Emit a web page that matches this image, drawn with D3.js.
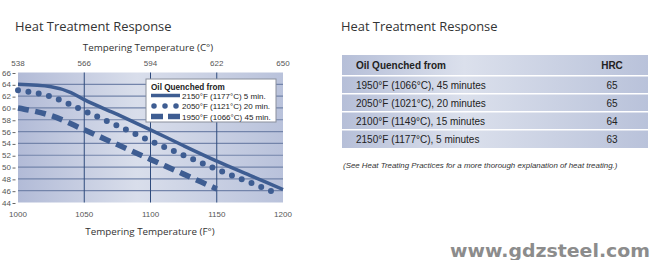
<!DOCTYPE html>
<html>
<head>
<meta charset="utf-8">
<script src="https://cdn.jsdelivr.net/npm/d3@7"></script>
<style>
  body { margin: 0; background: #fff; }
  svg { display: block; }
</style>
</head>
<body>
<div id="chart"></div>
<script>
// curve data: tempering temp (F) -> hardness (HRC)
var temps2150 = [1000, 1025, 1040, 1050, 1075, 1100, 1125, 1150, 1175, 1200];
var hrc2150   = [64, 63.6, 62.6, 61.4, 58.9, 56.3, 53.6, 51, 48.6, 46.2];
var temps2050 = [1000, 1025, 1050, 1075, 1100, 1125, 1150, 1175, 1196];
var hrc2050   = [63, 61.9, 59.5, 57, 54.4, 52, 49.6, 47.4, 45.5];
var temps1950 = [1000, 1025, 1050, 1075, 1100, 1125, 1150];
var hrc1950   = [60, 58.7, 56.3, 53.8, 51.3, 48.8, 46.3];

var seriesNames = ["2150°F (1177°C) 5 min.", "2050°F (1121°C) 20 min.", "1950°F (1066°C) 45 min."];
var fTicks = [1000, 1050, 1100, 1150, 1200];
var cTicks = [538, 566, 594, 622, 650];
var hrcTicks = [44, 46, 48, 50, 52, 54, 56, 58, 60, 62, 64, 66];

// table on the right
var tableHead = ["Oil Quenched from", "HRC"];
var tableRows = ["1950°F (1066°C), 45 minutes", "2050°F (1021°C), 20 minutes",
                 "2100°F (1149°C), 15 minutes", "2150°F (1177°C), 5 minutes"];
var tableHrc = [65, 65, 64, 63];

var W = 652, H = 260;
var lineColor = "#3e5d92";
var font = "Liberation Sans, Arial, sans-serif";

var svg = d3.select("#chart").append("svg")
  .attr("width", W).attr("height", H)
  .style("font-family", font);

var defs = svg.append("defs");
var g1 = defs.append("linearGradient").attr("id", "plotbg");
g1.append("stop").attr("offset", "0%").attr("stop-color", "#b2bbd7");
g1.append("stop").attr("offset", "45%").attr("stop-color", "#d9deeb");
g1.append("stop").attr("offset", "100%").attr("stop-color", "#b9c2db");
var g2 = defs.append("linearGradient").attr("id", "tblbg");
g2.append("stop").attr("offset", "0%").attr("stop-color", "#b6bfd8");
g2.append("stop").attr("offset", "40%").attr("stop-color", "#dbe0ec");
g2.append("stop").attr("offset", "100%").attr("stop-color", "#b9c2da");

// ---- chart ----
var x = d3.scaleLinear().domain([1000, 1200]).range([18, 283]);
var xc = d3.scaleLinear().domain([538, 650]).range([18, 283]);
var y = d3.scaleLinear().domain([44, 66]).range([202.5, 72.5]);

svg.append("text").attr("x", 15).attr("y", 31)
  .attr("font-family", "Open Sans, sans-serif").attr("font-size", 12.9).attr("fill", "#333")
  .text("Heat Treatment Response");

svg.append("rect")
  .attr("x", x(1000)).attr("y", y(66))
  .attr("width", x(1200) - x(1000)).attr("height", y(44) - y(66))
  .attr("fill", "url(#plotbg)");

svg.append("g").selectAll("line")
  .data(hrcTicks.filter(d => d > 44 && d < 66))
  .join("line")
  .attr("x1", x(1000)).attr("x2", x(1200))
  .attr("y1", d => y(d)).attr("y2", d => y(d))
  .attr("stroke", "#7384aa").attr("stroke-width", 1.2);

svg.append("g").selectAll("line")
  .data(fTicks.slice(1, -1))
  .join("line")
  .attr("x1", d => x(d)).attr("x2", d => x(d))
  .attr("y1", y(66)).attr("y2", y(44))
  .attr("stroke", "#2f4b7c").attr("stroke-width", 1);

// left axis labels with small dash
var left = svg.append("g").attr("font-size", 8).attr("fill", "#555");
left.selectAll("text").data(hrcTicks).join("text")
  .attr("x", 11).attr("y", d => y(d) + 3)
  .attr("text-anchor", "end").text(d => d);
left.selectAll("line").data(hrcTicks).join("line")
  .attr("x1", 12.5).attr("x2", 15.5)
  .attr("y1", d => y(d) + 1).attr("y2", d => y(d) + 1)
  .attr("stroke", "#666").attr("stroke-width", 1);

svg.append("g").attr("font-size", 8).attr("fill", "#555")
  .selectAll("text").data(cTicks).join("text")
  .attr("x", d => xc(d)).attr("y", 66).attr("text-anchor", "middle").text(d => d);

svg.append("g").attr("font-size", 8).attr("fill", "#555")
  .selectAll("text").data(fTicks).join("text")
  .attr("x", d => x(d)).attr("y", 217).attr("text-anchor", "middle").text(d => d);

svg.append("text").attr("x", 148).attr("y", 51).attr("text-anchor", "middle")
  .attr("font-family", "Open Sans, sans-serif").attr("font-size", 9.8).attr("fill", "#333")
  .text("Tempering Temperature (C°)");
svg.append("text").attr("x", 150).attr("y", 235).attr("text-anchor", "middle")
  .attr("font-family", "Open Sans, sans-serif").attr("font-size", 9.8).attr("fill", "#333")
  .text("Tempering Temperature (F°)");

var line = d3.line().x(d => x(d[0])).y(d => y(d[1])).curve(d3.curveMonotoneX);

var styles = [
  { w: 3.5, dash: null, cap: "butt" },
  { w: 6, dash: "0,10.5", cap: "round" },
  { w: 5.5, dash: "11,6.5", cap: "butt" }
];
var series = [
  d3.zip(temps2150, hrc2150),
  d3.zip(temps2050, hrc2050),
  d3.zip(temps1950, hrc1950)
];

svg.append("g").selectAll("path").data(series).join("path")
  .attr("d", line)
  .attr("fill", "none")
  .attr("stroke", lineColor)
  .attr("stroke-width", (d, i) => styles[i].w)
  .attr("stroke-dasharray", (d, i) => styles[i].dash)
  .attr("stroke-linecap", (d, i) => styles[i].cap);

// legend
var leg = svg.append("g").attr("transform", "translate(146,79)");
leg.append("rect").attr("width", 130).attr("height", 43)
  .attr("fill", "#fff").attr("stroke", "#8a8f9c").attr("stroke-width", 1);
leg.append("text").attr("x", 5).attr("y", 11).attr("font-size", 8.2)
  .attr("font-weight", "bold").attr("fill", "#222").text("Oil Quenched from");
var legDash = [null, "0,11", "12,5"];
seriesNames.forEach((name, i) => {
  var yy = 16.5 + i * 10.5;
  leg.append("line")
    .attr("x1", i == 1 ? 8 : 5).attr("x2", i == 1 ? 31 : 34)
    .attr("y1", yy).attr("y2", yy)
    .attr("stroke", lineColor)
    .attr("stroke-width", i == 0 ? 3.5 : 5.5)
    .attr("stroke-dasharray", legDash[i])
    .attr("stroke-linecap", i == 1 ? "round" : "butt");
  leg.append("text").attr("x", 36).attr("y", yy + 3).attr("font-size", 8)
    .attr("fill", "#222").text(name);
});

// ---- table ----
svg.append("text").attr("x", 341).attr("y", 31)
  .attr("font-family", "Open Sans, sans-serif").attr("font-size", 12.9).attr("fill", "#333")
  .text("Heat Treatment Response");

var tx0 = 342, tx1 = 648;
var rowTops = [55, 76.5, 94.5, 112.5, 130.5];
var rowH = [21, 17.5, 17.5, 17.5, 18.5];
var tbl = svg.append("g");
rowTops.forEach((t, i) => {
  tbl.append("rect").attr("x", tx0).attr("y", t)
    .attr("width", tx1 - tx0).attr("height", rowH[i] - 1)
    .attr("fill", "url(#tblbg)");
});
tbl.append("text").attr("x", 356).attr("y", 69).attr("font-size", 10)
  .attr("font-weight", "bold").attr("fill", "#222").text(tableHead[0]);
tbl.append("text").attr("x", 612).attr("y", 69).attr("font-size", 10)
  .attr("text-anchor", "middle").attr("font-weight", "bold").attr("fill", "#222").text(tableHead[1]);
tableRows.forEach((r, i) => {
  var yy = rowTops[i + 1] + 12.5;
  tbl.append("text").attr("x", 356).attr("y", yy).attr("font-size", 10)
    .attr("fill", "#222").text(r);
  tbl.append("text").attr("x", 612).attr("y", yy).attr("font-size", 10)
    .attr("text-anchor", "middle").attr("fill", "#222").text(tableHrc[i]);
});

svg.append("text").attr("x", 343).attr("y", 168).attr("font-size", 7.9)
  .attr("font-style", "italic").attr("fill", "#333")
  .text("(See Heat Treating Practices for a more thorough explanation of heat treating.)");

svg.append("text").attr("x", 450).attr("y", 257)
  .attr("font-family", "DejaVu Sans, sans-serif").attr("font-weight", "bold")
  .attr("font-size", 17).attr("fill", "#8c8c8c")
  .attr("textLength", 200).attr("lengthAdjust", "spacingAndGlyphs")
  .text("www.gdzsteel.com");
</script>
</body>
</html>
